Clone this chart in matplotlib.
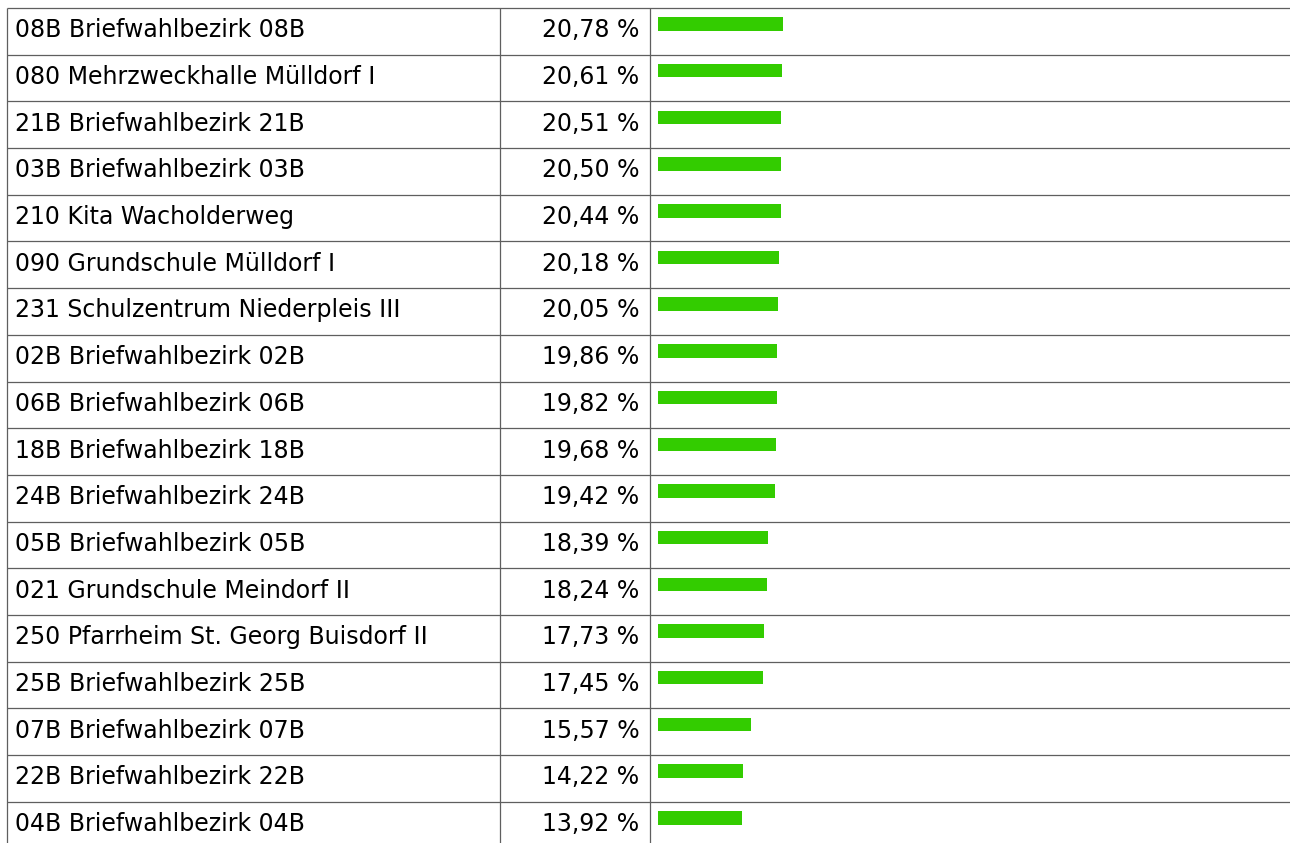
"""Turnout table with inline bars for the postal and polling districts."""
import numpy as np
import matplotlib
matplotlib.use("Agg")
import matplotlib.pyplot as plt

districts = [
    "08B Briefwahlbezirk 08B",
    "080 Mehrzweckhalle Mülldorf I",
    "21B Briefwahlbezirk 21B",
    "03B Briefwahlbezirk 03B",
    "210 Kita Wacholderweg",
    "090 Grundschule Mülldorf I",
    "231 Schulzentrum Niederpleis III",
    "02B Briefwahlbezirk 02B",
    "06B Briefwahlbezirk 06B",
    "18B Briefwahlbezirk 18B",
    "24B Briefwahlbezirk 24B",
    "05B Briefwahlbezirk 05B",
    "021 Grundschule Meindorf II",
    "250 Pfarrheim St. Georg Buisdorf II",
    "25B Briefwahlbezirk 25B",
    "07B Briefwahlbezirk 07B",
    "22B Briefwahlbezirk 22B",
    "04B Briefwahlbezirk 04B",
]
shares = [20.78, 20.61, 20.51, 20.50, 20.44, 20.18, 20.05, 19.86, 19.82,
          19.68, 19.42, 18.39, 18.24, 17.73, 17.45, 15.57, 14.22, 13.92]

W, H = 1290, 843
TOP = 8.0
ROW_H = 46.69
X_LEFT, X_COL1, X_COL2 = 7.0, 499.5, 649.5
BAR_X0 = 658.0
PX_PER_PCT = 6.0
BAR_H = 13.5
BASELINE = 29.3
LINE_COLOR = "#5f5f5f"
BAR_COLOR = "#33cc00"
FONT = "DejaVu Sans"
FS = 17

fig = plt.figure(figsize=(W / 100, H / 100), dpi=100)
ax = fig.add_axes([0, 0, 1, 1])
ax.set_xlim(0, W)
ax.set_ylim(H, 0)
ax.axis("off")

n = len(districts)
row_tops = TOP + ROW_H * np.arange(n)

# grid lines
for y in np.append(row_tops, TOP + ROW_H * n):
    ax.plot([X_LEFT, W], [y, y], color=LINE_COLOR, lw=0.9, solid_capstyle="butt")
for x in (X_LEFT, X_COL1, X_COL2):
    ax.plot([x, x], [TOP, H], color=LINE_COLOR, lw=0.9, solid_capstyle="butt")

# bars
vals = np.array(shares)
ax.barh(row_tops + 9.3 + BAR_H / 2, vals * PX_PER_PCT, left=BAR_X0,
        height=BAR_H, color=BAR_COLOR, linewidth=0)

for top, name, v in zip(row_tops, districts, shares):
    yb = top + BASELINE
    ax.text(15, yb, name, fontsize=FS, family=FONT, color="#000000",
            ha="left", va="baseline")
    label = f"{v:.2f}".replace(".", ",") + " %"
    ax.text(639.5, yb, label, fontsize=FS, family=FONT, color="#000000",
            ha="right", va="baseline")

fig.savefig("out.png", dpi=100)
